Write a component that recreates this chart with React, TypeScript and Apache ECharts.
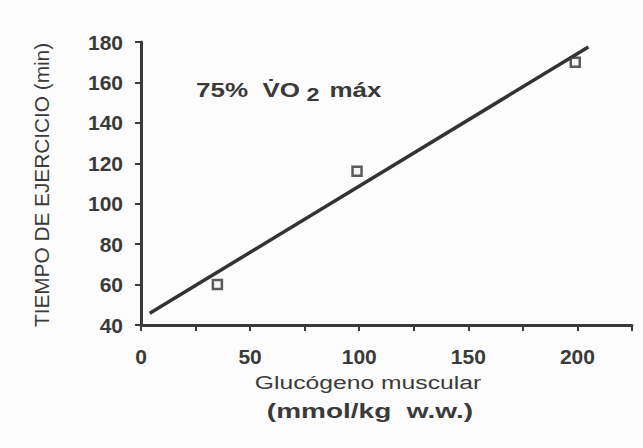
import React, { useEffect, useRef } from "react";
import * as echarts from "echarts";

const xTicks = [0, 50, 100, 150, 200];
const yTicks = [40, 60, 80, 100, 120, 140, 160, 180];
const pointsX = [35, 99, 199];
const pointsY = [60, 116, 170];
const lineX = [4, 205];
const lineY = [45.8, 177.5];
const yName = "TIEMPO DE EJERCICIO (min)";
const xName1 = "Glucógeno muscular";
const xName2 = "(mmol/kg  w.w.)";

export default function App() {
  const ref = useRef<HTMLDivElement>(null);
  useEffect(() => {
    const chart = echarts.init(ref.current!, undefined, { renderer: "svg" });
    const ink = "#3a3a3a";
    const font = "Liberation Sans, Arial, sans-serif";
    chart.setOption({
      animation: false,
      backgroundColor: "#fcfcfc",
      grid: { left: 141, top: 42, right: 11, bottom: 123, containLabel: false },
      xAxis: {
        type: "value",
        min: 0,
        max: 225,
        interval: 25,
        axisLine: { show: true, onZero: false, lineStyle: { color: ink, width: 3 } },
        axisTick: { show: true, length: 6, lineStyle: { color: ink, width: 2 } },
        splitLine: { show: false },
        axisLabel: {
          color: ink,
          fontFamily: font,
          fontWeight: "bold",
          fontSize: 21,
          margin: 21,
          formatter: (v: number) => (xTicks.includes(v) ? String(v) : ""),
        },
      },
      yAxis: {
        type: "value",
        min: 40,
        max: 180,
        interval: 20,
        axisLine: { show: true, onZero: false, lineStyle: { color: ink, width: 3 } },
        axisTick: { show: true, length: 6, lineStyle: { color: ink, width: 2 } },
        splitLine: { show: false },
        axisLabel: {
          color: ink,
          fontFamily: font,
          fontWeight: "bold",
          fontSize: 21,
          margin: 18,
          formatter: (v: number) => (yTicks.includes(v) ? String(v) : ""),
        },
      },
      series: [
        {
          type: "line",
          data: lineX.map((x, i) => [x, lineY[i]]),
          symbol: "none",
          lineStyle: { color: "#333", width: 3.5 },
          z: 2,
        },
        {
          type: "scatter",
          data: pointsX.map((x, i) => [x, pointsY[i]]),
          symbol: "rect",
          symbolSize: 9,
          itemStyle: { color: "#f4f4f4", borderColor: "#333", borderWidth: 2.5 },
          z: 3,
        },
      ],
      graphic: [
        {
          type: "text",
          x: 42,
          y: 185,
          rotation: Math.PI / 2,
          scaleX: 1.04,
          style: {
            text: yName,
            fill: ink,
            font: `20px ${font}`,
            align: "center",
            verticalAlign: "middle",
          },
        },
        {
          type: "text",
          x: 368,
          y: 383,
          scaleX: 1.3,
          style: {
            text: xName1,
            fill: ink,
            font: `19px ${font}`,
            align: "center",
            verticalAlign: "middle",
          },
        },
        {
          type: "text",
          x: 370,
          y: 411,
          scaleX: 1.4,
          style: {
            text: xName2,
            fill: ink,
            font: `bold 20px ${font}`,
            align: "center",
            verticalAlign: "middle",
          },
        },
        {
          type: "text",
          x: 196,
          y: 90,
          scaleX: 1.3,
          style: {
            text: "{a|75%  V\u0307O}{s| 2}{a| máx}",
            fill: ink,
            verticalAlign: "middle",
            rich: {
              a: { font: `bold 20px ${font}`, fill: ink, verticalAlign: "middle" },
              s: { font: `bold 18px ${font}`, fill: ink, padding: [10, 2, 0, 0], verticalAlign: "bottom" },
            },
          },
        },
      ],
    });
    return () => chart.dispose();
  }, []);
  return <div ref={ref} style={{ width: 643, height: 448, position: "absolute", left: 0, top: 0 }} />;
}
